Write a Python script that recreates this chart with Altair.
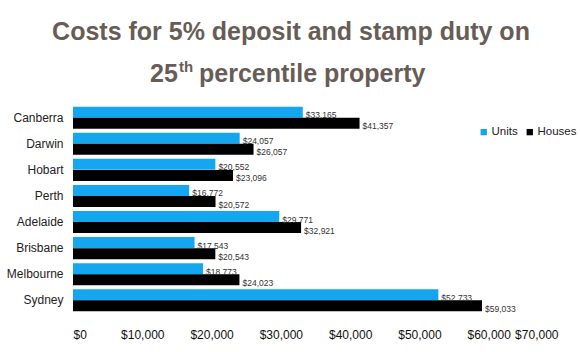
import altair as alt
import pandas as pd

cities = ["Canberra", "Darwin", "Hobart", "Perth", "Adelaide", "Brisbane", "Melbourne", "Sydney"]
units = [33165, 24057, 20552, 16772, 29771, 17543, 18773, 52733]
houses = [41357, 26057, 23096, 20572, 32921, 20543, 24023, 59033]
types = ["Units", "Houses"]
colors = ["#14a6ee", "#000000"]
x_ticks = [0, 10000, 20000, 30000, 40000, 50000, 60000, 70000]

rows = []
for c, u, h in zip(cities, units, houses):
    rows.append({"city": c, "type": "Units", "value": u})
    rows.append({"city": c, "type": "Houses", "value": h})
df = pd.DataFrame(rows)

FONT = "Liberation Sans"
TITLE_COLOR = "#675d56"

y_enc = alt.Y("city:N", sort=cities,
              scale=alt.Scale(paddingInner=0.15, paddingOuter=0.1),
              axis=alt.Axis(title=None, domain=False, ticks=False, labelFont=FONT,
                            labelFontSize=12, labelColor="#222222", labelPadding=10))
yoff_enc = alt.YOffset("type:N", sort=types, scale=alt.Scale(paddingInner=0, paddingOuter=0))
x_enc = alt.X("value:Q", scale=alt.Scale(domain=[0, 70000], nice=False),
              axis=alt.Axis(title=None, values=x_ticks, format="$,.0f", grid=False,
                            domain=False, ticks=False, labelFont=FONT, labelFontSize=12,
                            labelColor="#111111", labelPadding=15))

base = alt.Chart(df)

bars = base.mark_bar(size=11).encode(
    y=y_enc, yOffset=yoff_enc, x=x_enc,
    color=alt.Color("type:N", sort=types,
                    scale=alt.Scale(domain=types, range=colors),
                    legend=alt.Legend(title=None, orient="none", legendX=405, legendY=22,
                                      direction="horizontal", symbolType="square",
                                      symbolSize=40, symbolStrokeWidth=0, padding=0,
                                      labelFont=FONT, labelFontSize=11.5, labelColor="#222222",
                                      labelOffset=2, columnPadding=6, labelLimit=80)),
)

labels = base.mark_text(align="left", baseline="middle", dx=3, dy=3, font=FONT,
                        fontSize=8.5, color="#333333").encode(
    y=alt.Y("city:N", sort=cities), yOffset=alt.YOffset("type:N", sort=types),
    x=alt.X("value:Q"),
    text=alt.Text("value:Q", format="$,.0f"),
)

title_df = pd.DataFrame({"t": ["x"]})
tbase = alt.Chart(title_df)
t1 = tbase.mark_text(text="Costs for 5% deposit and stamp duty on", font=FONT, fontSize=25,
                     fontWeight="bold", color=TITLE_COLOR, align="center",
                     baseline="alphabetic").encode(x=alt.value(218), y=alt.value(-64))
t2a = tbase.mark_text(text="25", font=FONT, fontSize=25, fontWeight="bold", color=TITLE_COLOR,
                      align="left", baseline="alphabetic").encode(x=alt.value(77), y=alt.value(-22))
t2b = tbase.mark_text(text="th", font=FONT, fontSize=15, fontWeight="bold", color=TITLE_COLOR,
                      align="left", baseline="alphabetic").encode(x=alt.value(106), y=alt.value(-32))
t2c = tbase.mark_text(text="percentile property", font=FONT, fontSize=25, fontWeight="bold",
                      color=TITLE_COLOR, align="left",
                      baseline="alphabetic").encode(x=alt.value(126), y=alt.value(-22))

chart = alt.layer(bars, labels, t1, t2a, t2b, t2c).properties(
    width=485, height=210,
    autosize=alt.AutoSizeParams(type="none"),
    padding={"left": 73, "top": 104, "right": 22, "bottom": 38},
    background="white",
).configure_view(stroke=None)

chart.save("out.html", embed_options={"renderer": "svg", "actions": False})
